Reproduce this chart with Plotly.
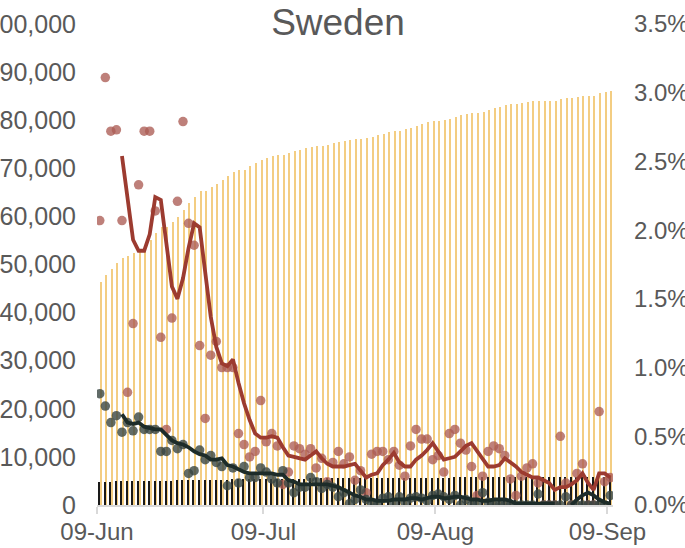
import plotly.graph_objects as go
import pandas as pd

dates = pd.date_range("2020-06-09", "2020-09-09", freq="D")

# cumulative cases (left axis)
cum_cases = [46360, 47820, 49060, 50310, 51350, 51770, 52390, 52810, 54050, 55090,
             56550, 57800, 57800, 58840, 59880, 61330, 62790, 64030, 65280, 65280,
             66110, 66740, 67570, 68400, 69230, 69650, 69650, 70480, 71100, 71730,
             72140, 72560, 72770, 72770, 73180, 73600, 73800, 74220, 74430, 74640,
             74640, 74840, 75260, 75470, 75680, 75880, 76090, 76090, 76300, 76510,
             76920, 77130, 77550, 77750, 77750, 78170, 78380, 78790, 79210, 79630,
             79830, 79830, 80040, 80250, 80670, 81080, 81290, 81500, 81500, 81700,
             82120, 82540, 82740, 83160, 83370, 83370, 83580, 83780, 83990, 83990,
             83990, 83990, 83990, 84410, 84620, 84620, 84820, 85030, 85030, 85030,
             85660, 85860, 86070]

# cumulative deaths (left axis)
cum_deaths = [4800, 4830, 4860, 4890, 4900, 4900, 4920, 4950, 4990, 5020,
              5040, 5040, 5040, 5060, 5100, 5130, 5160, 5180, 5180, 5180,
              5210, 5240, 5270, 5300, 5320, 5320, 5320, 5330, 5360, 5390,
              5410, 5430, 5430, 5430, 5440, 5460, 5480, 5500, 5520, 5520,
              5520, 5530, 5540, 5560, 5570, 5590, 5590, 5590, 5600, 5610,
              5620, 5630, 5640, 5640, 5640, 5650, 5660, 5670, 5680, 5690,
              5690, 5690, 5700, 5710, 5720, 5720, 5730, 5730, 5730, 5740,
              5740, 5750, 5750, 5760, 5760, 5760, 5770, 5770, 5780, 5780,
              5790, 5790, 5790, 5800, 5810, 5810, 5820, 5820, 5820, 5820,
              5830, 5840, 5840]

# daily case growth, % (right axis)
case_growth = [2.07, 3.11, 2.72, 2.73, 2.07, 0.82, 1.32, 2.33, 2.72, 2.72,
               2.14, 1.22, 0.55, 1.36, 2.21, 2.79, 2.05, 1.89, 1.16, 0.63,
               1.09, 1.19, 1.00, 1.00, 1.00, 0.52, 0.44, 0.35, 0.39, 0.76,
               0.46, 0.52, 0.43, 0.15, 0.24, 0.43, 0.41, 0.37, 0.41, 0.27,
               0.34, 0.17, 0.31, 0.39, 0.30, 0.35, 0.18, 0.25, 0.09, 0.37,
               0.39, 0.39, 0.33, 0.39, 0.29, 0.21, 0.43, 0.55, 0.48, 0.48,
               0.33, 0.36, 0.24, 0.52, 0.55, 0.45, 0.40, 0.28, 0.07, 0.21,
               0.39, 0.43, 0.41, 0.36, 0.19, 0.07, 0.21, 0.27, 0.30, 0.16,
               0.00, 0.00, 0.00, 0.50, 0.16, 0.00, 0.23, 0.30, 0.00, 0.00,
               0.68, 0.17, 0.20]

# moving average of case growth, %
case_growth_avg = [None, None, None, None, 2.54, 2.23, 1.93, 1.85, 1.85, 1.97,
                   2.24, 2.22, 1.89, 1.59, 1.50, 1.65, 1.87, 2.05, 2.02, 1.71,
                   1.37, 1.15, 1.03, 1.01, 1.06, 0.89, 0.74, 0.62, 0.52, 0.49,
                   0.49, 0.50, 0.49, 0.42, 0.36, 0.35, 0.34, 0.33, 0.36, 0.39,
                   0.34, 0.30, 0.28, 0.28, 0.28, 0.29, 0.30, 0.25, 0.20, 0.22,
                   0.23, 0.29, 0.33, 0.38, 0.31, 0.28, 0.28, 0.33, 0.36, 0.40,
                   0.45, 0.39, 0.33, 0.34, 0.35, 0.39, 0.43, 0.45, 0.39, 0.33,
                   0.28, 0.28, 0.29, 0.34, 0.31, 0.28, 0.24, 0.22, 0.20, 0.20,
                   0.18, 0.16, 0.11, 0.13, 0.13, 0.15, 0.18, 0.23, 0.16, 0.11,
                   0.23, 0.23, 0.20]

# daily death growth, % (right axis)
death_growth = [0.81, 0.72, 0.60, 0.65, 0.53, 0.60, 0.54, 0.64, 0.55, 0.55,
                0.55, 0.39, 0.39, 0.47, 0.41, 0.44, 0.23, 0.25, 0.40, 0.33,
                0.36, 0.31, 0.28, 0.14, 0.27, 0.16, 0.28, 0.20, 0.20, 0.27,
                0.24, 0.19, 0.16, 0.25, 0.16, 0.09, 0.13, 0.13, 0.20, 0.17,
                0.12, 0.15, 0.13, 0.06, 0.09, 0.01, 0.04, 0.11, 0.04, 0.01,
                0.00, 0.05, 0.06, 0.01, 0.06, 0.02, 0.05, 0.06, 0.05, 0.03,
                0.07, 0.08, 0.06, 0.04, 0.07, 0.00, 0.04, 0.00, 0.01, 0.09,
                0.02, 0.00, 0.00, 0.00, 0.00, 0.00, 0.00, 0.00, 0.00, 0.08,
                0.00, 0.00, 0.00, 0.00, 0.06, 0.00, 0.00, 0.00, 0.00, 0.00,
                0.00, 0.00, 0.07]

# moving average of death growth, %
death_growth_avg = [None, None, None, None, 0.66, 0.60, 0.59, 0.60, 0.57, 0.56,
                    0.55, 0.55, 0.51, 0.47, 0.45, 0.44, 0.42, 0.39, 0.37, 0.36,
                    0.33, 0.33, 0.34, 0.29, 0.28, 0.26, 0.24, 0.23, 0.23, 0.23,
                    0.23, 0.23, 0.22, 0.22, 0.18, 0.17, 0.15, 0.15, 0.15, 0.15,
                    0.15, 0.15, 0.14, 0.13, 0.11, 0.09, 0.07, 0.06, 0.04, 0.04,
                    0.03, 0.03, 0.03, 0.04, 0.04, 0.04, 0.05, 0.05, 0.04, 0.05,
                    0.06, 0.06, 0.05, 0.05, 0.06, 0.06, 0.05, 0.04, 0.04, 0.03,
                    0.03, 0.04, 0.04, 0.04, 0.03, 0.01, 0.01, 0.01, 0.01, 0.01,
                    0.01, 0.01, 0.01, None, None, 0.00, 0.04, 0.07, 0.09, 0.07,
                    0.04, 0.02, 0.01]

x_ticks = ["2020-06-09", "2020-07-09", "2020-08-09", "2020-09-09"]
x_tick_labels = ["09-Jun", "09-Jul", "09-Aug", "09-Sep"]

DAY_MS = 86400000
mid = dates + pd.Timedelta(hours=12)
pct = lambda arr: [None if v is None else v / 100 for v in arr]

fig = go.Figure()
fig.add_trace(go.Bar(x=dates, y=cum_cases, marker=dict(color="#f3cd82", line=dict(width=0)),
                     width=0.27 * DAY_MS, offset=0.57 * DAY_MS, name="Cases"))
fig.add_trace(go.Bar(x=dates, y=cum_deaths, marker=dict(color="#1a1a1a", line=dict(width=0)),
                     width=0.21 * DAY_MS, offset=0.29 * DAY_MS, name="Deaths"))
fig.add_trace(go.Scatter(x=mid, y=pct(case_growth), yaxis="y2", mode="markers",
                         marker=dict(size=9.5, color="rgba(172,92,84,0.78)"), name="case growth"))
fig.add_trace(go.Scatter(x=mid, y=pct(death_growth), yaxis="y2", mode="markers",
                         marker=dict(size=9.5, color="rgba(58,70,66,0.8)"), name="death growth"))
fig.add_trace(go.Scatter(x=mid, y=pct(case_growth_avg), yaxis="y2", mode="lines",
                         line=dict(color="#9c3b30", width=3.8), name="case avg"))
fig.add_trace(go.Scatter(x=mid, y=pct(death_growth_avg), yaxis="y2", mode="lines",
                         line=dict(color="#1d2c29", width=3.8), name="death avg"))

tickfont = dict(family="Liberation Sans, Arial, sans-serif", size=24, color="#595959")
lefttickfont = dict(family="Liberation Sans, Arial, sans-serif", size=25, color="#595959")
fig.update_layout(
    template="none",
    width=685, height=548,
    margin=dict(l=97, r=72, t=24, b=43, pad=0),
    paper_bgcolor="white", plot_bgcolor="rgba(0,0,0,0)",
    showlegend=False, barmode="overlay", bargap=0,
    title=dict(text="Sweden", x=338 / 685, xref="container", y=1 - 22 / 548, yref="container",
               xanchor="center", yanchor="middle",
               font=dict(family="Liberation Sans, Arial, sans-serif", size=37, color="#595959")),
    xaxis=dict(type="date", range=["2020-06-09", "2020-09-10"], tickvals=x_ticks,
               ticktext=x_tick_labels, ticks="outside", ticklen=7, tickwidth=2,
               tickcolor="#d9d9d9", showline=True, linecolor="#d9d9d9", linewidth=2,
               showgrid=False, zeroline=False, tickfont=tickfont, automargin=False,
               ticklabelstandoff=-3),
    yaxis=dict(range=[0, 100000], dtick=10000, tickformat=",", showgrid=False,
               zeroline=False, showline=False, ticks="", tickfont=lefttickfont,
               ticklabelstandoff=20, automargin=False),
    yaxis2=dict(range=[0, 0.035], dtick=0.005, tickformat=".1%", overlaying="y",
                side="right", showgrid=False, zeroline=False, showline=False, ticks="",
                tickfont=tickfont, ticklabelstandoff=20, automargin=False),
)
fig.write_html("out.html", config={"displayModeBar": False},
               post_script="document.body.style.margin='0';document.body.style.overflow='hidden';")
